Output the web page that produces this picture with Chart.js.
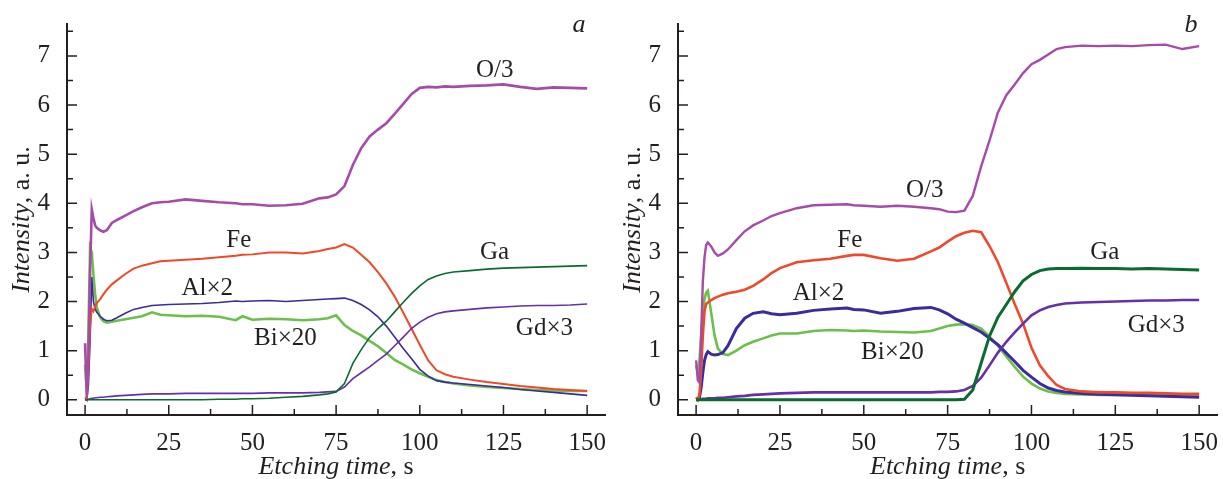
<!DOCTYPE html>
<html lang="en">

<head>
  <meta charset="UTF-8">
  <title>Depth profiles</title>
  <script src="https://cdn.jsdelivr.net/npm/chart.js"></script>
  <style>
    body { margin: 0; background: #ffffff; }
    .painel { position: absolute; top: 0; height: 479px; }
  </style>
</head>

<body>

  <div class="painel" style="left: 0; width: 611px;"><canvas id="chartA" width="611" height="479"></canvas></div>
  <div class="painel" style="left: 611px; width: 612px;"><canvas id="chartB" width="612" height="479"></canvas></div>

  <script>
    // etching time grid (s), shared by both panels
    const times = [0, 0.5, 1, 1.5, 2, 2.5, 3, 3.5, 4.5, 5.5,
      6.5, 8, 9.5, 12, 14.5, 17, 20, 22.5, 25, 30,
      35, 40, 45, 47, 50, 55, 60, 65, 70, 72.5,
      75, 77.5, 80, 82.5, 85, 87.5, 90, 92.5, 95, 97.5,
      100, 102.5, 105, 107.5, 110, 115, 120, 125, 130, 135,
      140, 145, 150];

    const xTicks = [0, 25, 50, 75, 100, 125, 150];
    const xMinorTicks = [12.5, 37.5, 62.5, 87.5, 112.5, 137.5];
    const yTicks = [0, 1, 2, 3, 4, 5, 6, 7];
    const yMinorTicks = [0.5, 1.5, 2.5, 3.5, 4.5, 5.5, 6.5, 7.5];

    // panel a
    const aO3 = [1.15, 0.05, 0.9, 2.6, 3.88, 3.7, 3.55, 3.5, 3.45, 3.42,
      3.45, 3.6, 3.66, 3.75, 3.84, 3.92, 4.0, 4.02, 4.03, 4.08,
      4.05, 4.02, 4.0, 3.98, 3.98, 3.95, 3.96, 3.99, 4.1, 4.12,
      4.18, 4.35, 4.78, 5.12, 5.36, 5.5, 5.63, 5.82, 6.02, 6.22,
      6.35, 6.37, 6.36, 6.38, 6.37, 6.39, 6.4, 6.42, 6.37, 6.33,
      6.36, 6.35, 6.34];
    const aFe = [0.05, 0.0, 0.6, 1.5, 1.85, 1.8, 1.9, 1.97, 2.05, 2.15,
      2.24, 2.35, 2.43, 2.56, 2.67, 2.73, 2.78, 2.82, 2.83, 2.85,
      2.87, 2.9, 2.93, 2.95, 2.96, 3.0, 3.0, 2.98, 3.03, 3.07,
      3.1, 3.17, 3.1, 2.95, 2.8, 2.6, 2.37, 2.1, 1.78, 1.45,
      1.12, 0.8, 0.6, 0.52, 0.47, 0.41, 0.36, 0.32, 0.28, 0.25,
      0.22, 0.2, 0.18];
    const aAl = [0.0, 0.0, 0.3, 1.2, 2.5, 2.0, 1.85, 1.78, 1.7, 1.64,
      1.61, 1.62, 1.67, 1.76, 1.84, 1.88, 1.92, 1.93, 1.94, 1.95,
      1.96, 1.98, 2.01, 2.0, 2.01, 2.02, 2.0, 2.02, 2.04, 2.05,
      2.06, 2.07, 2.02, 1.94, 1.83, 1.69, 1.5, 1.28, 1.05, 0.84,
      0.62, 0.48, 0.39, 0.36, 0.34, 0.31, 0.28, 0.25, 0.21, 0.18,
      0.15, 0.12, 0.09];
    const aBi = [0.72, 0.2, 1.4, 3.1, 3.0, 2.55, 2.15, 1.88, 1.68, 1.6,
      1.57, 1.59, 1.61, 1.64, 1.67, 1.7, 1.78, 1.73, 1.72, 1.7,
      1.71, 1.69, 1.62, 1.7, 1.63, 1.65, 1.64, 1.62, 1.64, 1.66,
      1.72, 1.52, 1.4, 1.31, 1.2, 1.09, 0.95, 0.81, 0.72, 0.62,
      0.54, 0.47, 0.4, 0.36, 0.33, 0.29, 0.26, 0.24, 0.22, 0.2,
      0.19, 0.18, 0.18];
    const aGa = [0, 0, 0, 0, 0, 0, 0, 0, 0, 0,
      0, 0, 0, 0, 0, 0, 0, 0, 0, 0,
      0, 0.01, 0.01, 0.02, 0.02, 0.03, 0.05, 0.07, 0.1, 0.12,
      0.16, 0.33, 0.74, 1.02, 1.27, 1.45, 1.6, 1.79, 1.98, 2.16,
      2.32, 2.45, 2.52, 2.57, 2.6, 2.63, 2.66, 2.68, 2.69, 2.7,
      2.71, 2.72, 2.73];
    const aGd = [0, 0, 0.01, 0.02, 0.03, 0.03, 0.04, 0.04, 0.05, 0.05,
      0.06, 0.07, 0.08, 0.09, 0.1, 0.11, 0.12, 0.12, 0.12, 0.13,
      0.13, 0.13, 0.13, 0.13, 0.13, 0.14, 0.14, 0.14, 0.15, 0.16,
      0.17, 0.26, 0.43, 0.55, 0.67, 0.8, 0.93, 1.1, 1.27, 1.45,
      1.58, 1.68, 1.75, 1.79, 1.81, 1.84, 1.87, 1.89, 1.91, 1.92,
      1.92, 1.93, 1.95];

    // panel b
    const bO3 = [0.8, 0.4, 0.35, 1.3, 2.4, 2.9, 3.15, 3.2, 3.12, 3.0,
      2.93, 2.98, 3.06, 3.25, 3.43, 3.55, 3.65, 3.74, 3.8, 3.9,
      3.96, 3.97, 3.98, 3.96, 3.95, 3.93, 3.95, 3.93, 3.9, 3.88,
      3.83, 3.82, 3.85, 4.15, 4.75, 5.28, 5.85, 6.2, 6.42, 6.65,
      6.83, 6.92, 7.03, 7.14, 7.18, 7.21, 7.2, 7.21, 7.2, 7.22,
      7.23, 7.14, 7.2];
    const bFe = [0.05, 0.0, 0.1, 0.6, 1.3, 1.8, 1.95, 1.98, 2.03, 2.07,
      2.1, 2.14, 2.17, 2.2, 2.24, 2.32, 2.45, 2.58, 2.68, 2.8,
      2.84, 2.87, 2.93, 2.95, 2.95, 2.88, 2.83, 2.87, 3.02, 3.1,
      3.22, 3.33, 3.4, 3.44, 3.41, 3.13, 2.8, 2.38, 1.95, 1.55,
      1.06, 0.7, 0.48, 0.3, 0.22, 0.17, 0.15, 0.15, 0.14, 0.14,
      0.13, 0.12, 0.12];
    const bAl = [0, 0, 0.05, 0.25, 0.55, 0.8, 0.92, 0.98, 0.93, 0.91,
      0.92, 0.96, 1.1, 1.45, 1.66, 1.76, 1.79, 1.75, 1.73, 1.76,
      1.82, 1.85, 1.87, 1.84, 1.83, 1.76, 1.8, 1.86, 1.88, 1.83,
      1.75, 1.64, 1.56, 1.47, 1.38, 1.25, 1.12, 0.95, 0.78, 0.6,
      0.46, 0.33, 0.24, 0.19, 0.16, 0.13, 0.11, 0.1, 0.09, 0.08,
      0.07, 0.06, 0.05];
    const bBi = [0.7, 0.55, 0.8, 1.3, 1.75, 2.05, 2.18, 2.22, 1.77, 1.31,
      1.04, 0.93, 0.91, 1.0, 1.11, 1.18, 1.25, 1.31, 1.35, 1.35,
      1.4, 1.42, 1.41, 1.4, 1.41, 1.39, 1.38, 1.37, 1.4, 1.45,
      1.5, 1.53, 1.54, 1.52, 1.45, 1.29, 1.1, 0.88, 0.67, 0.47,
      0.33, 0.23, 0.17, 0.14, 0.12, 0.11, 0.1, 0.1, 0.1, 0.1,
      0.1, 0.1, 0.1];
    const bGa = [0, 0, 0, 0, 0, 0, 0, 0, 0, 0,
      0, 0, 0, 0, 0, 0, 0, 0, 0, 0,
      0, 0, 0, 0, 0, 0, 0, 0, 0, 0,
      0, 0, 0.01, 0.2, 0.75, 1.3, 1.68, 1.94, 2.2, 2.42,
      2.55, 2.63, 2.66, 2.67, 2.67, 2.68, 2.67, 2.67, 2.66, 2.67,
      2.66, 2.65, 2.64];
    const bGd = [0, 0, 0, 0.01, 0.02, 0.02, 0.02, 0.03, 0.03, 0.03,
      0.04, 0.04, 0.05, 0.07, 0.08, 0.1, 0.11, 0.12, 0.13, 0.14,
      0.15, 0.15, 0.15, 0.15, 0.15, 0.15, 0.15, 0.15, 0.15, 0.16,
      0.16, 0.17, 0.2, 0.28, 0.45, 0.7, 0.96, 1.18, 1.37, 1.55,
      1.72, 1.82, 1.89, 1.93, 1.96, 1.98, 1.99, 2.0, 2.01, 2.02,
      2.02, 2.03, 2.03];

    // curve labels: text, x (s), y (a.u.) of the baseline start
    const labelsA = [['O/3', 116.8, 6.58], ['Fe', 42.2, 3.10], ['Al×2', 28.8, 2.13],
      ['Bi×20', 50.5, 1.12], ['Ga', 118.0, 2.86], ['Gd×3', 128.7, 1.32]];
    const labelsB = [['O/3', 62.6, 4.12], ['Fe', 42.1, 3.10], ['Al×2', 28.8, 2.03],
      ['Bi×20', 49.2, 0.84], ['Ga', 117.5, 2.86], ['Gd×3', 128.7, 1.38]];

    const corTexto = '#231f20';
    const serif = '"Liberation Serif", "Times New Roman", serif';
    const tamTexto = 25;
    const tamTitulo = 26;

    function pontos(valores) {
      return times.map((t, i) => ({ x: t, y: valores[i] }));
    }

    function linha(valores, cor, largura) {
      return {
        data: pontos(valores),
        borderColor: cor,
        borderWidth: largura,
        pointRadius: 0,
        tension: 0,
        fill: false
      };
    }

    const desenhoExtra = {
      id: 'desenhoExtra',
      afterDatasetsDraw(chart, args, opts) {
        const ctx = chart.ctx;
        const sx = chart.scales.x;
        const sy = chart.scales.y;
        const area = chart.chartArea;
        ctx.save();
        ctx.strokeStyle = corTexto;
        ctx.lineWidth = 1.5;
        ctx.beginPath();
        xTicks.forEach(v => { const p = sx.getPixelForValue(v); ctx.moveTo(p, area.bottom); ctx.lineTo(p, area.bottom - 10); });
        xMinorTicks.forEach(v => { const p = sx.getPixelForValue(v); ctx.moveTo(p, area.bottom); ctx.lineTo(p, area.bottom - 6); });
        yTicks.forEach(v => { const p = sy.getPixelForValue(v); ctx.moveTo(area.left, p); ctx.lineTo(area.left + 10, p); });
        yMinorTicks.forEach(v => { const p = sy.getPixelForValue(v); ctx.moveTo(area.left, p); ctx.lineTo(area.left + 6, p); });
        ctx.stroke();

        ctx.fillStyle = corTexto;
        ctx.textBaseline = 'alphabetic';
        ctx.textAlign = 'left';
        ctx.font = tamTexto + 'px ' + serif;
        opts.rotulos.forEach(r => {
          ctx.fillText(r[0], sx.getPixelForValue(r[1]), sy.getPixelForValue(r[2]));
        });

        // panel letter
        ctx.font = 'italic ' + tamTitulo + 'px ' + serif;
        ctx.textAlign = 'right';
        ctx.fillText(opts.letra, area.right - 20, 32);

        // x title
        const it1 = 'Etching time', rg1 = ', s';
        ctx.textAlign = 'left';
        ctx.font = 'italic ' + tamTitulo + 'px ' + serif;
        const w1 = ctx.measureText(it1).width;
        ctx.font = tamTitulo + 'px ' + serif;
        const w2 = ctx.measureText(rg1).width;
        const cx = (sx.getPixelForValue(0) + sx.getPixelForValue(150)) / 2;
        const x0 = cx - (w1 + w2) / 2;
        ctx.font = 'italic ' + tamTitulo + 'px ' + serif;
        ctx.fillText(it1, x0, 474);
        ctx.font = tamTitulo + 'px ' + serif;
        ctx.fillText(rg1, x0 + w1, 474);

        // y title
        const it2 = 'Intensity', rg2 = ', a. u.';
        ctx.font = 'italic ' + tamTitulo + 'px ' + serif;
        const w3 = ctx.measureText(it2).width;
        ctx.font = tamTitulo + 'px ' + serif;
        const w4 = ctx.measureText(rg2).width;
        const cy = (area.top + area.bottom) / 2;
        ctx.translate(29, cy);
        ctx.rotate(-Math.PI / 2);
        const y0 = -(w3 + w4) / 2;
        ctx.font = 'italic ' + tamTitulo + 'px ' + serif;
        ctx.fillText(it2, y0, 0);
        ctx.font = tamTitulo + 'px ' + serif;
        ctx.fillText(rg2, y0 + w3, 0);
        ctx.restore();
      }
    };

    function criarGrafico(idCanvas, series, rotulos, letra) {
      const ctx = document.getElementById(idCanvas).getContext('2d');
      return new Chart(ctx, {
        type: 'line',
        data: { datasets: series },
        options: {
          responsive: false,
          animation: false,
          events: [],
          layout: { padding: { top: 14, right: 3, bottom: 0, left: 0 } },
          plugins: {
            legend: { display: false },
            tooltip: { enabled: false },
            desenhoExtra: { rotulos: rotulos, letra: letra }
          },
          scales: {
            x: {
              type: 'linear',
              min: -5.4,
              max: 155.5,
              afterBuildTicks: s => { s.ticks = xTicks.map(v => ({ value: v })); },
              afterFit: s => { s.height = 64; },
              grid: { display: false },
              border: { display: true, color: corTexto, width: 2 },
              ticks: { color: corTexto, padding: 5, maxRotation: 0, font: { family: serif, size: tamTexto } }
            },
            y: {
              type: 'linear',
              min: -0.31,
              max: 7.65,
              afterBuildTicks: s => { s.ticks = yTicks.map(v => ({ value: v })); },
              afterFit: s => { s.width = 67; },
              grid: { display: false },
              border: { display: true, color: corTexto, width: 2 },
              ticks: { color: corTexto, padding: 9, font: { family: serif, size: tamTexto } }
            }
          }
        },
        plugins: [desenhoExtra]
      });
    }

    criarGrafico('chartA', [
      linha(aGa, '#0b6b2f', 1.6),
      linha(aGd, '#6530a8', 1.6),
      linha(aO3, '#a64ca8', 2.6),
      linha(aFe, '#f0482a', 2),
      linha(aAl, '#3a2b9e', 1.6),
      linha(aBi, '#6cc04a', 2.6)
    ], labelsA, 'a');

    criarGrafico('chartB', [
      linha(bGa, '#0b6b2f', 3),
      linha(bGd, '#6530a8', 2.6),
      linha(bO3, '#a64ca8', 2.4),
      linha(bFe, '#f0482a', 2.6),
      linha(bAl, '#3a2b9e', 3),
      linha(bBi, '#6cc04a', 2.6)
    ], labelsB, 'b');
  </script>

</body>

</html>
